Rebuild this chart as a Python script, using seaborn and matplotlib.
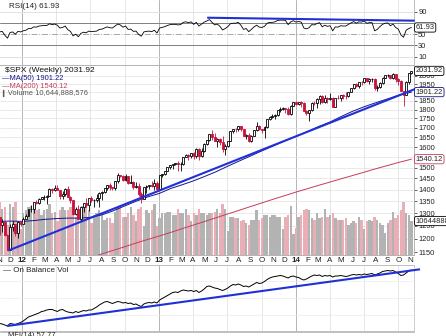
import numpy as np
import pandas as pd
import matplotlib
matplotlib.use("Agg")
import matplotlib.pyplot as plt
import matplotlib.dates as mdates
import matplotlib.transforms as mtrans
from matplotlib.lines import Line2D
from matplotlib.ticker import FixedLocator, NullLocator, FuncFormatter
import seaborn as sns

# ---------------------------------------------------------------- data
week_ending = pd.date_range("2011-11-04", periods=158, freq="W-FRI")
first_open = 1285.09

closes = [
    1253.23, 1263.85, 1215.65, 1158.67, 1244.28, 1255.19, 1219.66, 1265.33, 1257.60,
    1277.81, 1289.09, 1315.38, 1316.33, 1344.90, 1342.64, 1361.23, 1365.74, 1369.63, 1370.87,
    1404.17, 1397.11, 1408.47, 1398.08, 1370.26, 1378.53, 1403.36, 1369.10, 1353.39, 1295.22,
    1317.82, 1278.04, 1325.66, 1342.84, 1335.02, 1362.16, 1354.68, 1356.78, 1362.66, 1385.97,
    1390.99, 1405.87, 1418.16, 1411.13, 1406.58, 1437.92, 1465.77, 1460.15, 1440.67, 1460.93,
    1428.59, 1433.19, 1411.94, 1414.20, 1379.85, 1359.88, 1409.15, 1416.18, 1418.07, 1413.58,
    1430.15, 1402.43,
    1466.47, 1472.05, 1485.98, 1502.96, 1513.17, 1517.93, 1519.79, 1515.60, 1518.20, 1551.18,
    1560.70, 1556.89, 1569.19, 1553.28, 1588.85, 1555.25, 1582.24, 1614.42, 1633.70, 1667.47,
    1649.60, 1630.74, 1643.38, 1626.73, 1592.43, 1606.28, 1631.89, 1680.19, 1692.09, 1691.65,
    1709.67, 1691.42, 1655.83, 1663.50, 1632.97, 1655.17, 1687.99, 1709.91, 1691.75, 1690.50,
    1703.20, 1744.50, 1759.77, 1761.64, 1770.61, 1798.18, 1804.76, 1805.81, 1805.09, 1775.32,
    1818.32, 1841.40,
    1831.37, 1842.37, 1838.70, 1790.29, 1782.59, 1797.02, 1838.63, 1836.25, 1859.45, 1878.04,
    1841.13, 1866.52, 1857.62, 1865.09, 1815.69, 1864.85, 1863.40, 1881.14, 1878.48, 1877.86,
    1900.53, 1923.57, 1949.44, 1936.16, 1962.87, 1960.96, 1985.44, 1967.57, 1978.22, 1978.34,
    1925.15, 1931.59, 1955.06, 1988.40, 2003.37, 2007.71, 1985.54, 2010.40, 1982.85, 1967.90,
    1906.13, 1886.76, 1964.58, 2018.05, 2031.92,
]
highs = [
    1285, 1277, 1265, 1219, 1255, 1267, 1255, 1269, 1269,
    1285, 1297, 1316, 1333, 1347, 1354, 1364, 1368, 1378, 1375, 1406, 1409,
    1419, 1422, 1398, 1392, 1407, 1415, 1370, 1354, 1325, 1335,
    1329, 1343, 1363, 1363, 1374, 1357, 1380, 1390, 1395, 1406,
    1420, 1427, 1413, 1438, 1474, 1467, 1465, 1471, 1461, 1464,
    1436, 1434, 1428, 1388, 1409, 1421, 1421, 1439, 1448, 1436,
    1467, 1472, 1486, 1503, 1514, 1519, 1524, 1531, 1525, 1552,
    1564, 1564, 1570, 1573, 1594, 1593, 1593, 1618, 1635, 1668,
    1688, 1674, 1646, 1648, 1654, 1615, 1632, 1681, 1693, 1698,
    1710, 1711, 1693, 1669, 1670, 1664, 1688, 1730, 1712, 1693,
    1707, 1745, 1765, 1775, 1773, 1799, 1814, 1813, 1806, 1812,
    1823, 1844, 1849, 1843, 1850, 1844, 1798, 1798, 1841, 1847,
    1867, 1883, 1883, 1884, 1875, 1897, 1872, 1869, 1884, 1885,
    1889, 1902, 1901, 1924, 1950, 1955, 1963, 1969, 1986, 1985,
    1986, 1990, 1985, 1942, 1964, 1992, 2005, 2012, 2009, 2019,
    2011, 1987, 1977, 1906, 1966, 2019, 2033,
]
lows = [
    1215, 1226, 1209, 1158, 1158, 1231, 1209, 1202, 1248,
    1258, 1275, 1290, 1306, 1300, 1336, 1340, 1358, 1354, 1340, 1371, 1386,
    1392, 1398, 1357, 1358, 1374, 1367, 1343, 1292, 1291, 1277,
    1267, 1306, 1324, 1309, 1348, 1325, 1345, 1325, 1354, 1384,
    1398, 1398, 1397, 1396, 1429, 1455, 1439, 1440, 1425, 1427,
    1403, 1406, 1373, 1343, 1357, 1385, 1403, 1411, 1398, 1398,
    1402, 1456, 1466, 1486, 1493, 1495, 1514, 1485, 1485, 1514,
    1549, 1538, 1546, 1539, 1548, 1537, 1550, 1577, 1608, 1633,
    1636, 1630, 1598, 1608, 1577, 1560, 1601, 1633, 1671, 1676,
    1681, 1684, 1654, 1640, 1628, 1627, 1655, 1685, 1686, 1672,
    1646, 1701, 1743, 1752, 1746, 1762, 1788, 1797, 1779, 1772,
    1767, 1818, 1827, 1824, 1815, 1790, 1770, 1738, 1791, 1824,
    1809, 1834, 1840, 1840, 1839, 1857, 1814, 1816, 1859, 1851,
    1860, 1862, 1874, 1900, 1921, 1930, 1925, 1944, 1958, 1965,
    1952, 1965, 1916, 1905, 1928, 1953, 1986, 1995, 1980, 1978,
    1964, 1941, 1906, 1821, 1887, 1951, 2011,
]
volume_bn = [
    16.5, 14.5, 15.0, 9.5, 16.0, 15.0, 16.5, 10.5, 8.0,
    13.0, 14.0, 15.0, 15.5, 16.0, 14.0, 14.5, 12.5, 14.0, 14.5, 16.0, 13.0, 13.5,
    10.5, 14.0, 15.0, 14.0, 14.0, 15.0, 16.0, 12.0, 13.5, 14.5, 15.5, 15.0, 14.0,
    10.0, 12.5, 13.0, 14.0, 13.0, 11.0, 11.5, 11.5, 10.0, 13.5, 15.0, 15.5, 12.0,
    12.0, 13.0, 15.0, 12.5, 10.5, 14.5, 15.0, 9.0, 14.0, 13.0, 14.0, 16.0, 9.0,
    11.5, 13.0, 13.0, 13.5, 13.5, 12.5, 12.5, 14.5, 13.0, 13.0, 14.5, 12.5, 10.5,
    13.0, 12.5, 14.5, 13.0, 13.0, 12.5, 13.0, 13.0, 13.5, 14.5, 13.0, 16.0, 14.5,
    7.5, 12.0, 12.0, 11.5, 11.5, 10.5, 11.0, 10.0, 9.5, 11.0, 11.0, 14.0, 11.0,
    11.5, 12.5, 12.5, 12.0, 12.5, 12.5, 12.0, 12.0, 8.0, 12.0, 12.5, 15.5, 6.5,
    8.5, 12.0, 12.5, 14.0, 14.5, 14.0, 11.5, 11.0, 13.0, 11.5, 12.0, 14.5, 12.0,
    12.5, 13.0, 11.5, 11.0, 11.0, 11.0, 11.5, 9.5, 10.0, 10.5, 10.0, 12.0, 11.0,
    8.0, 10.5, 11.0, 10.5, 12.0, 11.0, 10.0, 9.5, 7.0, 10.0, 11.0, 13.5, 11.5,
    12.5, 14.0, 16.5, 13.0, 12.5, 10.64,
]
rsi14 = [
    54, 55, 48, 43, 53, 54, 50, 55, 54, 56,
    57, 60, 60, 63, 62.5, 64.5, 65, 65.5, 65.5, 68.5,
    67, 68, 66, 61, 62, 64.5, 58, 55, 47, 50,
    45.5, 51.5, 53.5, 52.5, 55.5, 54.5, 55, 55.5, 58.5, 59,
    61, 63, 61.5, 61, 64.5, 68, 66.5, 62.5, 64.5, 58.5,
    59, 55, 55.5, 49.5, 46.5, 54, 55, 55.5, 54.5, 57,
    52, 61, 62, 63.5, 65.5, 67, 67.5, 67.5, 66.5, 67,
    71, 72, 70.5, 72, 67.5, 71, 64.5, 68, 71.5, 73.5,
    76, 71, 66.5, 68, 64, 57.5, 60, 63.5, 68.5, 69.5,
    69.5, 71, 66, 58.5, 60, 54.5, 58.5, 63, 66, 62.5,
    62, 64, 69.5, 71, 71, 72, 74.5, 75, 75, 74.5,
    67, 72, 74, 71.5, 72.5, 71.5, 61, 59.5, 61.5, 67,
    66.5, 69, 70.5, 63, 66, 64, 65, 56, 63, 62.5,
    65, 64.5, 64.5, 67.5, 70, 72.5, 69.5, 72, 71.5, 73.5,
    69.5, 70.5, 70.5, 56, 58.5, 63.5, 67.5, 69.5, 70, 65,
    68, 62, 59, 49, 44.5, 57, 60, 61.93,
]
obv = [
    7.5, 7, 6, 5, 7.5, 7, 6.5, 7.5, 8.5, 10,
    12, 14, 15, 16, 17, 18, 19.5, 20, 21, 21.5,
    21.5, 20.5, 19.5, 21, 21.5, 20, 19, 18.5, 18, 19.5,
    18.5, 19.5, 20.5, 20, 21, 21, 22.5, 24, 26, 27.5,
    29, 29.5, 28.5, 27.5, 28.5, 29.5, 29, 28, 28.5, 27.5,
    28, 26.5, 27, 25.5, 24.5, 27, 28, 28.5, 28, 29,
    28, 31, 32.5, 34, 35.5, 37, 38.5, 39, 38.5, 40,
    41, 40.5, 40, 40.5, 39.5, 40.5, 38.5, 40, 42, 44.5,
    45, 44, 43, 42.5, 41.5, 40.5, 41.5, 43, 45, 46.5,
    46, 47, 46, 44.5, 45, 44, 45.5, 47, 48.5, 47.5,
    48, 49.5, 51.5, 53, 54, 54.5, 55, 55.5, 55, 54,
    53, 54.5, 55, 54, 53.5, 52, 51, 52, 53.5, 55,
    56, 55.5, 56, 54.5, 55.5, 55, 55.5, 54, 55, 55,
    55.5, 55, 54.5, 55, 56, 56.5, 56, 56.5, 56, 57,
    56.5, 57, 57.5, 56, 57, 58, 59.5, 60, 60.5, 60,
    60.5, 59, 57.5, 55.5, 56, 58, 60, 61,
]
ma50_dates = list(pd.date_range("2011-11-01", "2014-10-01", freq="MS")) + [pd.Timestamp("2014-11-05")]
ma50 = [
    1267, 1268,
    1267, 1270, 1275, 1278, 1280, 1280, 1283, 1293, 1310, 1330, 1350, 1368,
    1383, 1405, 1420, 1438, 1458, 1480, 1505, 1530, 1555, 1580, 1605, 1630,
    1655, 1680, 1705, 1730, 1760, 1790, 1815, 1838, 1860, 1882,
    1901.22,
]
ma200_dates = list(pd.date_range("2012-07-01", "2014-10-01", freq="MS")) + [pd.Timestamp("2014-11-05")]
ma200 = [
    1130, 1144, 1157, 1170, 1184, 1197,
    1210, 1224, 1237, 1252, 1266, 1281, 1296, 1311, 1327, 1342, 1358, 1373,
    1389, 1404, 1418, 1433, 1448, 1463, 1478, 1494, 1509, 1524,
    1540.12,
]
price_trend_dates = ["2011-11-25", "2014-11-22"]
price_trend_vals = [1156, 1926]
rsi_trend_dates = ["2013-05-09", "2014-11-14"]
rsi_trend_vals = [79.3, 74.0]
obv_trend_dates = ["2011-11-22", "2014-11-28"]
obv_trend_vals = [5.0, 61.7]

price_ticks = list(range(1150, 2001, 50))
price_labels_hidden = [1550, 1900]      # covered by the MA value boxes
rsi_ticks = [10, 30, 50, 70, 90]
rsi_labels = [10, 30, 50, 90]
month_letters = ["J", "F", "M", "A", "M", "J", "J", "A", "S", "O", "N", "D"]

for arr in (closes, highs, lows, volume_bn, rsi14, obv):
    assert len(arr) == 158, len(arr)
assert len(ma50) == len(ma50_dates)
assert len(ma200) == len(ma200_dates)

# ---------------------------------------------------------------- style
sns.set_theme(style="white")
plt.rcParams["font.family"] = ["Liberation Sans Narrow", "Liberation Sans", "DejaVu Sans"]
plt.rcParams["font.size"] = 5.2

RED = "#c8143c"
NAVY = "#14148c"
MARED = "#c83c5a"
BLUE = "#2030d8"
GRID = "#e2e2e2"
GRID_YEAR = "#a8a8a8"
SPINE = "#b4b4b4"
TXT = "#222222"
FS = 5.4

W, H = 446, 336
fig = plt.figure(figsize=(W / 100, H / 100), dpi=100)
fig.patch.set_facecolor("white")


def px_rect(x0, y0, x1, y1):
    return [x0 / W, 1 - y1 / H, (x1 - x0) / W, (y1 - y0) / H]


PR = 414
ax_rsi = fig.add_axes(px_rect(0, 0, PR, 65))
ax_vol = fig.add_axes(px_rect(0, 65, PR, 255))
ax_px = ax_vol.twinx()
ax_obv = fig.add_axes(px_rect(0, 265, PR, 331))

xl = (mdates.date2num(pd.Timestamp("2011-11-03")), mdates.date2num(pd.Timestamp("2014-11-12")))
xb = mdates.date2num(week_ending - pd.Timedelta(days=2))

c = np.array(closes, dtype=float)
o = np.r_[first_open, c[:-1]]
hi = np.maximum(np.array(highs, dtype=float), np.maximum(o, c))
lo = np.minimum(np.array(lows, dtype=float), np.minimum(o, c))
up = c >= o

quarters = mdates.date2num(pd.date_range("2012-01-01", "2014-10-01", freq="QS"))


def frame(ax):
    ax.set_xlim(*xl)
    ax.set_xticks([])
    ax.set_xlabel("")
    ax.set_ylabel("")
    ax.spines["left"].set_visible(False)
    for s in ("top", "bottom", "right"):
        ax.spines[s].set_color(SPINE)
        ax.spines[s].set_linewidth(0.6)
    ax.tick_params(axis="y", which="both", labelsize=FS, colors=TXT, length=2,
                   width=0.5, pad=1, left=False, labelleft=False, right=True, labelright=True)


def vgrid(ax):
    for q in quarters:
        d = mdates.num2date(q)
        ax.axvline(q, color=GRID_YEAR if d.month == 1 else GRID, lw=0.6, zorder=0)


# ---------------------------------------------------------------- RSI panel
frame(ax_rsi)
ax_rsi.spines["top"].set_visible(False)
ax_rsi.set_ylim(-4.8, 110.8)
vgrid(ax_rsi)
for lvl, col, ls in ((90, GRID, "-"), (10, GRID, "-"), (70, "#808080", "-"),
                     (30, "#808080", "-"), (50, "#a8a8a8", "-.")):
    ax_rsi.axhline(lvl, color=col, lw=0.7, ls=ls, zorder=1)
sns.lineplot(x=xb, y=rsi14, ax=ax_rsi, color="black", linewidth=0.6, legend=False, zorder=3)
ax_rsi.plot(mdates.date2num(pd.to_datetime(rsi_trend_dates)), rsi_trend_vals,
            color=BLUE, lw=1.5, solid_capstyle="butt", zorder=4, clip_on=False)
ax_rsi.yaxis.tick_right()
ax_rsi.yaxis.set_major_locator(FixedLocator(rsi_ticks))
ax_rsi.yaxis.set_major_formatter(FuncFormatter(lambda v, p: f"{v:.0f}" if round(v) in rsi_labels else ""))
ax_rsi.set_xlabel("")
ax_rsi.set_ylabel("")
ax_rsi.set_xticks([])
tr = mtrans.blended_transform_factory(ax_rsi.transAxes, ax_rsi.transData)
ax_rsi.text(1.004, rsi14[-1], f"{rsi14[-1]:.2f}", transform=tr, ha="left", va="center",
            fontsize=FS, color=TXT, clip_on=False, zorder=10,
            bbox=dict(boxstyle="round,pad=0.15,rounding_size=0.25", fc="white", ec="black", lw=0.6))
ax_rsi.text(9 / PR, 1 - 6 / 65, "RSI(14) 61.93", transform=ax_rsi.transAxes, ha="left",
            va="center", fontsize=5.8, color=TXT)

# ---------------------------------------------------------------- price panel
frame(ax_vol)
ax_vol.tick_params(axis="y", right=False, labelright=False)
ax_vol.set_ylim(0, 59.5)
ax_vol.set_yticks([])
vgrid(ax_vol)
ax_px.set_yscale("log")
ax_px.set_ylim(1140, 2070)
frame(ax_px)
ax_px.yaxis.set_major_locator(FixedLocator(price_ticks))
ax_px.yaxis.set_minor_locator(NullLocator())
ax_px.yaxis.set_major_formatter(
    FuncFormatter(lambda v, p: "" if round(v) in price_labels_hidden else f"{v:.0f}"))
ptr = mtrans.blended_transform_factory(ax_vol.transAxes, ax_px.transData)
for p in price_ticks:
    ax_vol.add_line(Line2D([0, 1], [p, p], transform=ptr, color=GRID, lw=0.5, zorder=0))

vol_colors = np.where(up, "#b3b3b3", "#eaaeb6")
ax_vol.bar(xb, volume_bn, width=6.3, color=vol_colors, linewidth=0, zorder=1)

sns.lineplot(x=mdates.date2num(pd.DatetimeIndex(ma200_dates)), y=ma200, ax=ax_px,
             color=MARED, linewidth=0.7, legend=False, zorder=2)
sns.lineplot(x=mdates.date2num(pd.DatetimeIndex(ma50_dates)), y=ma50, ax=ax_px,
             color=NAVY, linewidth=0.7, legend=False, zorder=2)

ax_px.vlines(xb[up], lo[up], hi[up], color="black", lw=0.6, zorder=3)
ax_px.vlines(xb[~up], lo[~up], hi[~up], color=RED, lw=0.6, zorder=3)
body_lo = np.minimum(o, c)
body_h = np.maximum(np.abs(c - o), 0.8)
ax_px.bar(xb[up], body_h[up], bottom=body_lo[up], width=5.2, facecolor="white",
          edgecolor="black", linewidth=0.6, zorder=4)
ax_px.bar(xb[~up], body_h[~up], bottom=body_lo[~up], width=5.2, facecolor=RED,
          edgecolor=RED, linewidth=0.6, zorder=4)
ax_px.plot(mdates.date2num(pd.to_datetime(price_trend_dates)), price_trend_vals,
           color=BLUE, lw=1.5, solid_capstyle="butt", zorder=5, clip_on=False)
ax_px.set_xlim(*xl)
ax_px.set_xlabel("")
ax_px.set_ylabel("")

btr = mtrans.blended_transform_factory(ax_px.transAxes, ax_px.transData)
vtr = mtrans.blended_transform_factory(ax_px.transAxes, ax_vol.transData)
for val, txt, ec, trf in ((closes[-1], f"{closes[-1]:.2f}", "black", btr),
                          (ma50[-1], f"{ma50[-1]:.2f}", NAVY, btr),
                          (ma200[-1], f"{ma200[-1]:.2f}", MARED, btr),
                          (volume_bn[-1], "10644888", "black", vtr)):
    ax_px.text(1.004, val, txt, transform=trf, ha="left", va="center", fontsize=FS,
               color=TXT, clip_on=False, zorder=10,
               bbox=dict(boxstyle="round,pad=0.15,rounding_size=0.25", fc="white", ec=ec, lw=0.6))

leg = [(5, 71, "\\$SPX (Weekly) 2031.92", "#111111", 6.0),
       (2, 79, "\u2014MA(50) 1901.22", NAVY, FS),
       (2, 86.5, "\u2014MA(200) 1540.12", MARED, FS),
       (2, 93.5, "\u258eVolume 10,644,888,576", "#555555", FS)]
for x, y, t, col, fs in leg:
    fig.text(x / W, 1 - y / H, t, ha="left", va="center", fontsize=fs, color=col)

# month labels row
mtr = mtrans.blended_transform_factory(ax_vol.transData, fig.transFigure)
for d in pd.date_range("2011-11-01", "2014-11-01", freq="MS"):
    if d.month == 1:
        lab, wt = f"{d.year % 100:02d}", "bold"
    else:
        lab, wt = month_letters[d.month - 1], "normal"
    fig.text(mdates.date2num(d), 1 - 260 / H, lab, transform=mtr, ha="center", va="center",
             fontsize=5.8, color=TXT, fontweight=wt)

# ---------------------------------------------------------------- OBV panel
frame(ax_obv)
ax_obv.set_ylim(0, 66)
ax_obv.set_yticks([])
ax_obv.tick_params(axis="y", right=False, labelright=False)
ax_obv.spines["right"].set_linestyle(":")
vgrid(ax_obv)
for lvl in (16, 33, 50):
    ax_obv.axhline(lvl, color="#ececec", lw=0.5, zorder=0)
sns.lineplot(x=xb, y=obv, ax=ax_obv, color="black", linewidth=0.7, legend=False, zorder=3)
ax_obv.plot(mdates.date2num(pd.to_datetime(obv_trend_dates)), obv_trend_vals,
            color=BLUE, lw=1.5, solid_capstyle="butt", zorder=4, clip_on=False)
ax_obv.set_xlabel("")
ax_obv.set_ylabel("")
ax_obv.set_xticks([])
fig.text(3 / W, 1 - 270 / H, "\u2014 On Balance Vol", ha="left", va="center",
         fontsize=5.8, color=TXT)

# bottom (cut-off) panel
fig.add_artist(Line2D([0, PR / W], [1 - 331.5 / H, 1 - 331.5 / H], color=SPINE, lw=0.6))
fig.text(8 / W, 1 - 335.5 / H, "MFI(14) 57.77", ha="left", va="center", fontsize=FS, color=TXT)

fig.savefig("out.png", dpi=100, facecolor="white")
